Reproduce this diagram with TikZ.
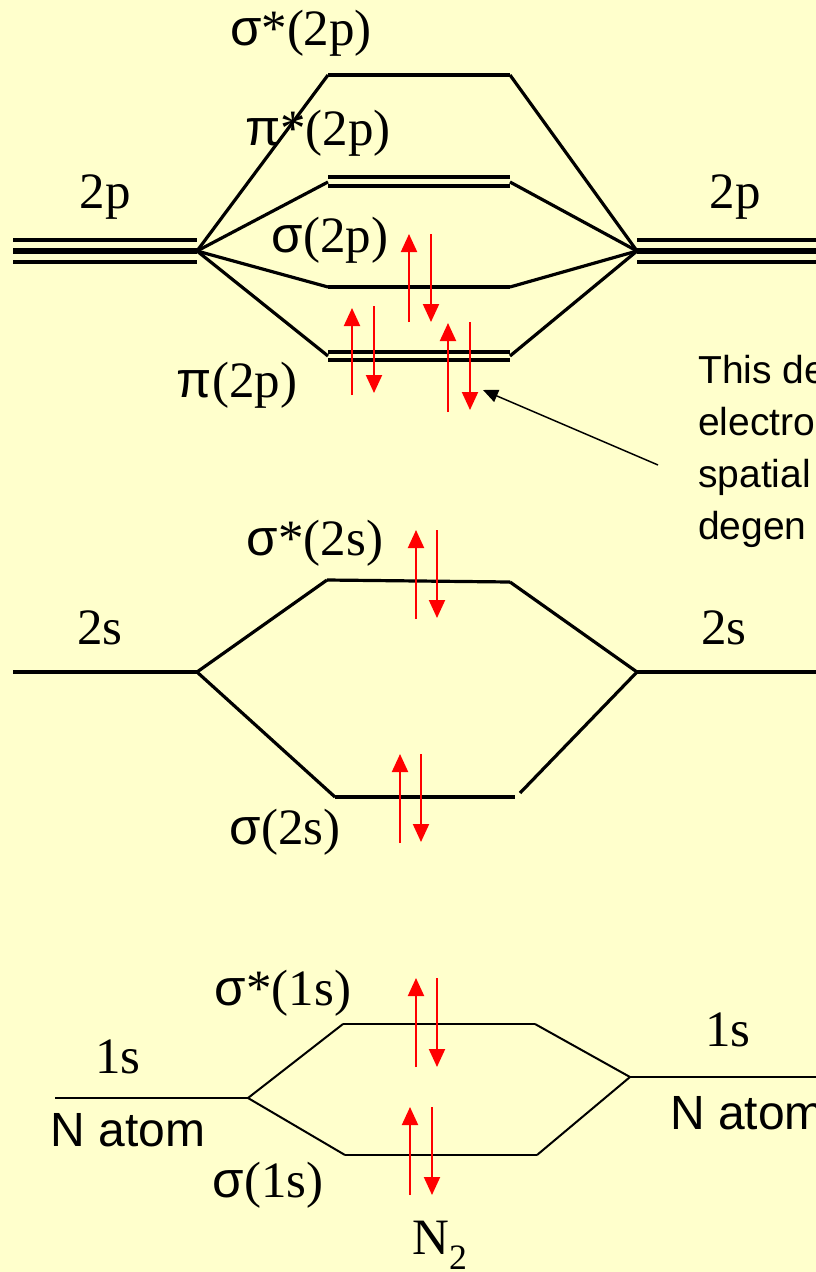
\documentclass[tikz,border=0pt]{standalone}
\usepackage{fontspec}
\setmainfont{Liberation Serif}
\newfontfamily\arialf{Liberation Sans}
\newcommand{\gks}{{\arialf σ}}
\newcommand{\gkp}{{\arialf π}}
\usetikzlibrary{arrows.meta}
\definecolor{bgyellow}{RGB}{255,255,204}
\begin{document}
\begin{tikzpicture}[x=1pt,y=-1pt,
 lbl/.style={font=\fontsize{51}{56}\selectfont, inner sep=0pt},
 sanslbl/.style={font=\arialf\fontsize{48}{52}\selectfont, inner sep=0pt},
 note/.style={font=\arialf\fontsize{39}{52}\selectfont, inner sep=0pt, anchor=base west},
 lvl/.style={line width=3.2pt},
 thinlvl/.style={line width=2pt},
 spin/.style={red, line width=2pt, -{Triangle[width=16pt,length=18pt]}},
 pointer/.style={black, line width=1.5pt, -{Triangle[width=13pt,length=15pt]}}
]
\fill[bgyellow] (0,0) rectangle (816,1272);
\useasboundingbox (0,0) rectangle (816,1272);

% ---------- 2p ----------
\coordinate (L2p) at (197,251);
\coordinate (R2p) at (637,251);
\draw[lvl] (13,240) -- (197,240);
\draw[line width=6pt] (13,251) -- (L2p);
\draw[lvl] (13,262) -- (197,262);
\draw[lvl] (637,240) -- (816,240);
\draw[line width=6pt] (R2p) -- (816,251);
\draw[lvl] (637,262) -- (816,262);

\coordinate (ss2pL) at (328,75);  \coordinate (ss2pR) at (510,75);
\coordinate (ps2pL) at (328,182); \coordinate (ps2pR) at (510,182);
\coordinate (s2pL) at (328,287);  \coordinate (s2pR) at (510,287);
\coordinate (p2pL) at (328,356);  \coordinate (p2pR) at (510,356);

\draw[lvl] (ss2pL) -- (ss2pR);
\draw[lvl] (328,177) -- (510,177);
\draw[lvl] (328,186) -- (510,186);
\draw[lvl] (s2pL) -- (s2pR);
\draw[lvl] (328,352) -- (510,352);
\draw[lvl] (328,360) -- (510,360);

\draw[lvl] (L2p) -- (ss2pL);
\draw[lvl] (ss2pR) -- (R2p);
\draw[lvl] (L2p) -- (ps2pL);
\draw[lvl] (ps2pR) -- (R2p);
\draw[lvl] (L2p) -- (s2pL);
\draw[lvl] (s2pR) -- (R2p);
\draw[lvl] (L2p) -- (p2pL);
\draw[lvl] (p2pR) -- (R2p);

\node[lbl] (tss2p) at (301,33) {\gks*(2p)};
\node[lbl] (tps2p) at (318,133) {\gkp*(2p)};
\node[lbl] (t2pL) at (105,197) {2p};
\node[lbl] (t2pR) at (735,197) {2p};
\node[lbl] (ts2p) at (330,240) {\gks(2p)};
\node[lbl] (tp2p) at (237,385) {\gkp(2p)};

\draw[spin] (409,322) -- (409,234);
\draw[spin] (431,234) -- (431,322);
\draw[spin] (352,395) -- (352,308);
\draw[spin] (374,306) -- (374,393);
\draw[spin] (448,412) -- (448,323);
\draw[spin] (470,322) -- (470,410);

% annotation
\node[note] (n1) at (698,383) {This de};
\node[note] (n2) at (698,435) {electro};
\node[note] (n3) at (698,487) {spatial};
\node[note] (n4) at (698,539) {degen};
\coordinate (ptail) at (658,465);
\coordinate (phead) at (483,390);
\draw[pointer] (ptail) -- (phead);

% ---------- 2s ----------
\coordinate (L2s) at (197,672);
\coordinate (R2s) at (637,672);
\draw[lvl] (13,672) -- (L2s);
\draw[lvl] (R2s) -- (816,672);
\coordinate (ss2sL) at (327,580); \coordinate (ss2sR) at (510,582);
\coordinate (s2sL) at (335,797);  \coordinate (s2sR) at (515,797);
\draw[lvl] (ss2sL) -- (ss2sR);
\draw[lvl] (s2sL) -- (s2sR);
\draw[lvl] (L2s) -- (ss2sL);
\draw[lvl] (ss2sR) -- (R2s);
\draw[lvl] (L2s) -- (s2sL);
\draw[lvl] (520,793) -- (R2s);

\node[lbl] (t2sL) at (100,628) {2s};
\node[lbl] (t2sR) at (724,628) {2s};
\node[lbl] (tss2s) at (315,543) {\gks*(2s)};
\node[lbl] (ts2s) at (285,832) {\gks(2s)};

\draw[spin] (416,619) -- (416,530);
\draw[spin] (437,530) -- (437,618);
\draw[spin] (400,843) -- (400,754);
\draw[spin] (421,754) -- (421,842);

% ---------- 1s ----------
\coordinate (L1s) at (248,1098);
\coordinate (R1s) at (630,1077);
\draw[thinlvl] (55,1098) -- (L1s);
\draw[thinlvl] (R1s) -- (816,1077);
\coordinate (ss1sL) at (343,1024); \coordinate (ss1sR) at (535,1024);
\coordinate (s1sL) at (345,1155);  \coordinate (s1sR) at (537,1155);
\draw[thinlvl] (ss1sL) -- (ss1sR);
\draw[thinlvl] (s1sL) -- (s1sR);
\draw[thinlvl] (L1s) -- (ss1sL);
\draw[thinlvl] (ss1sR) -- (R1s);
\draw[thinlvl] (L1s) -- (s1sL);
\draw[thinlvl] (s1sR) -- (R1s);

\node[lbl] (t1sL) at (118,1057) {1s};
\node[lbl] (t1sR) at (728,1030) {1s};
\node[sanslbl] (natL) at (128,1130) {N atom};
\node[sanslbl, anchor=west] (natR) at (670,1113) {N atom};
\node[lbl] (tss1s) at (283,993) {\gks*(1s)};
\node[lbl] (ts1s) at (268,1185) {\gks(1s)};
\node[lbl] (tN2) at (440,1245) {N\textsubscript{2}};

\draw[spin] (416,1067) -- (416,978);
\draw[spin] (437,978) -- (437,1067);
\draw[spin] (410,1195) -- (410,1107);
\draw[spin] (432,1107) -- (432,1195);
\end{tikzpicture}
\end{document}
